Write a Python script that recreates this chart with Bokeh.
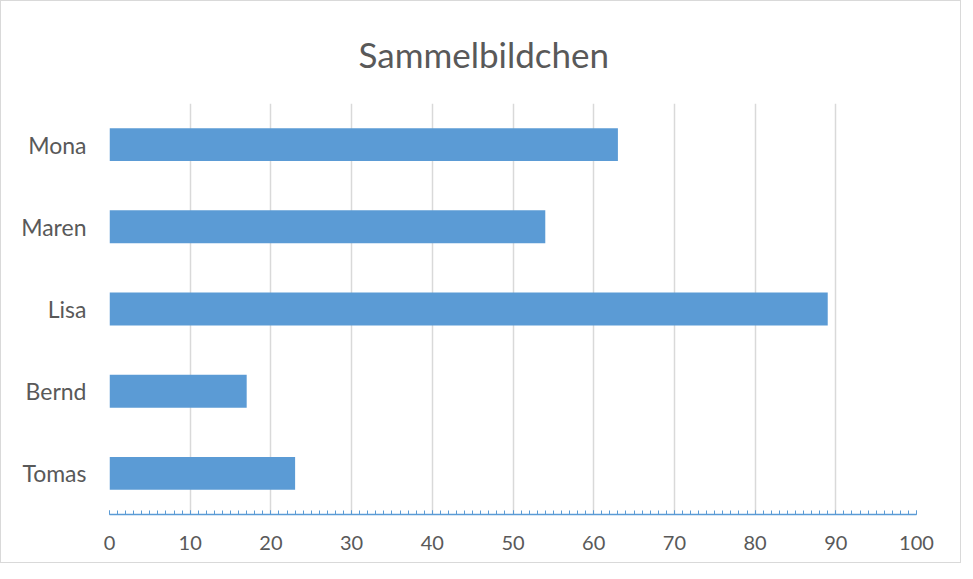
from bokeh.plotting import figure
from bokeh.models import Range1d, FactorRange, SingleIntervalTicker
from bokeh.embed import file_html
from bokeh.resources import INLINE

names = ["Tomas", "Bernd", "Lisa", "Maren", "Mona"]
values = [23, 17, 89, 54, 63]
title_text = "Sammelbildchen"

FONT = "Lato"
TEXT = "#595959"

p = figure(width=961, height=563, output_backend="svg", toolbar_location=None,
           y_range=FactorRange(factors=names, range_padding=0),
           x_range=Range1d(0, 100),
           min_border_left=108, min_border_right=46, min_border_top=98, min_border_bottom=50)

p.hbar(y=names, right=values, left=0, height=0.4, color="#5b9bd5", line_color=None)

p.title.text = title_text
p.title.align = "left"
p.title.offset = 249
p.title.text_font = FONT
p.title.text_font_size = "35px"
p.title.text_font_style = "normal"
p.title.text_line_height = 0.75
p.title.text_color = TEXT
p.title.standoff = 58

p.outline_line_color = None
p.background_fill_color = "white"
p.border_fill_color = "white"
p.styles = {"border": "1px solid #d9d9d9"}

p.xaxis.ticker = SingleIntervalTicker(interval=10, num_minor_ticks=10)
p.xaxis.axis_line_color = "#5b9bd5"
p.xaxis.axis_line_width = 1.5
p.xaxis.major_tick_in = 4
p.xaxis.major_tick_out = 0
p.xaxis.major_tick_line_color = "#5b9bd5"
p.xaxis.minor_tick_in = 4
p.xaxis.minor_tick_out = 0
p.xaxis.minor_tick_line_color = "#5b9bd5"
p.xaxis.major_label_text_font = FONT
p.xaxis.major_label_text_font_size = "20px"
p.xaxis.major_label_text_color = TEXT
p.xaxis.major_label_standoff = 21

p.yaxis.axis_line_color = None
p.yaxis.major_tick_line_color = None
p.yaxis.minor_tick_line_color = None
p.yaxis.major_label_text_font = FONT
p.yaxis.major_label_text_font_size = "23px"
p.yaxis.major_label_text_color = TEXT
p.yaxis.major_label_standoff = 17

p.xgrid.ticker = SingleIntervalTicker(interval=10)
p.xgrid.grid_line_color = "#d9d9d9"
p.xgrid.grid_line_width = 1.5
p.ygrid.grid_line_color = None

open("out.html", "w").write(file_html(p, INLINE))
